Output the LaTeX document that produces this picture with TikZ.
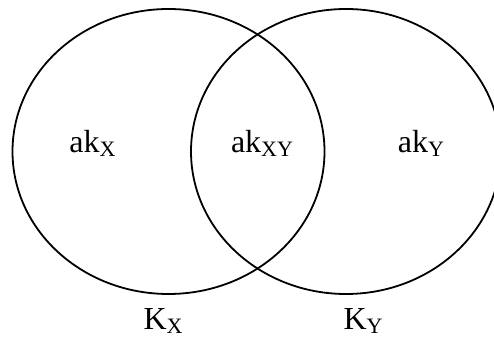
\documentclass[tikz,border=0pt]{standalone}
\usepackage{fontspec}
\setmainfont{Liberation Serif}
\newcommand{\lowsub}[1]{\raisebox{-3.5pt}{\fontsize{22pt}{22pt}\selectfont #1}}
\tikzset{lbl/.style={inner sep=0pt,anchor=base,font=\fontsize{32pt}{32pt}\selectfont}}
\begin{document}
\begin{tikzpicture}[x=1pt,y=1pt,line width=1.8pt]
    \useasboundingbox (0,0) rectangle (494,339);
    \draw (168.5,187.5) ellipse [x radius=156,y radius=142.5];
    \draw (346,187.5) ellipse [x radius=155,y radius=142.5];
    \node[lbl] (akx) at (92.5,186) {ak\lowsub{X}};
    \node[lbl] (akxy) at (262,186) {ak\lowsub{XY}};
    \node[lbl] (aky) at (421,186) {ak\lowsub{Y}};
    \node[lbl] (kx) at (163,9) {K\lowsub{X}};
    \node[lbl] (ky) at (363,9) {K\lowsub{Y}};
\end{tikzpicture}
\end{document}
